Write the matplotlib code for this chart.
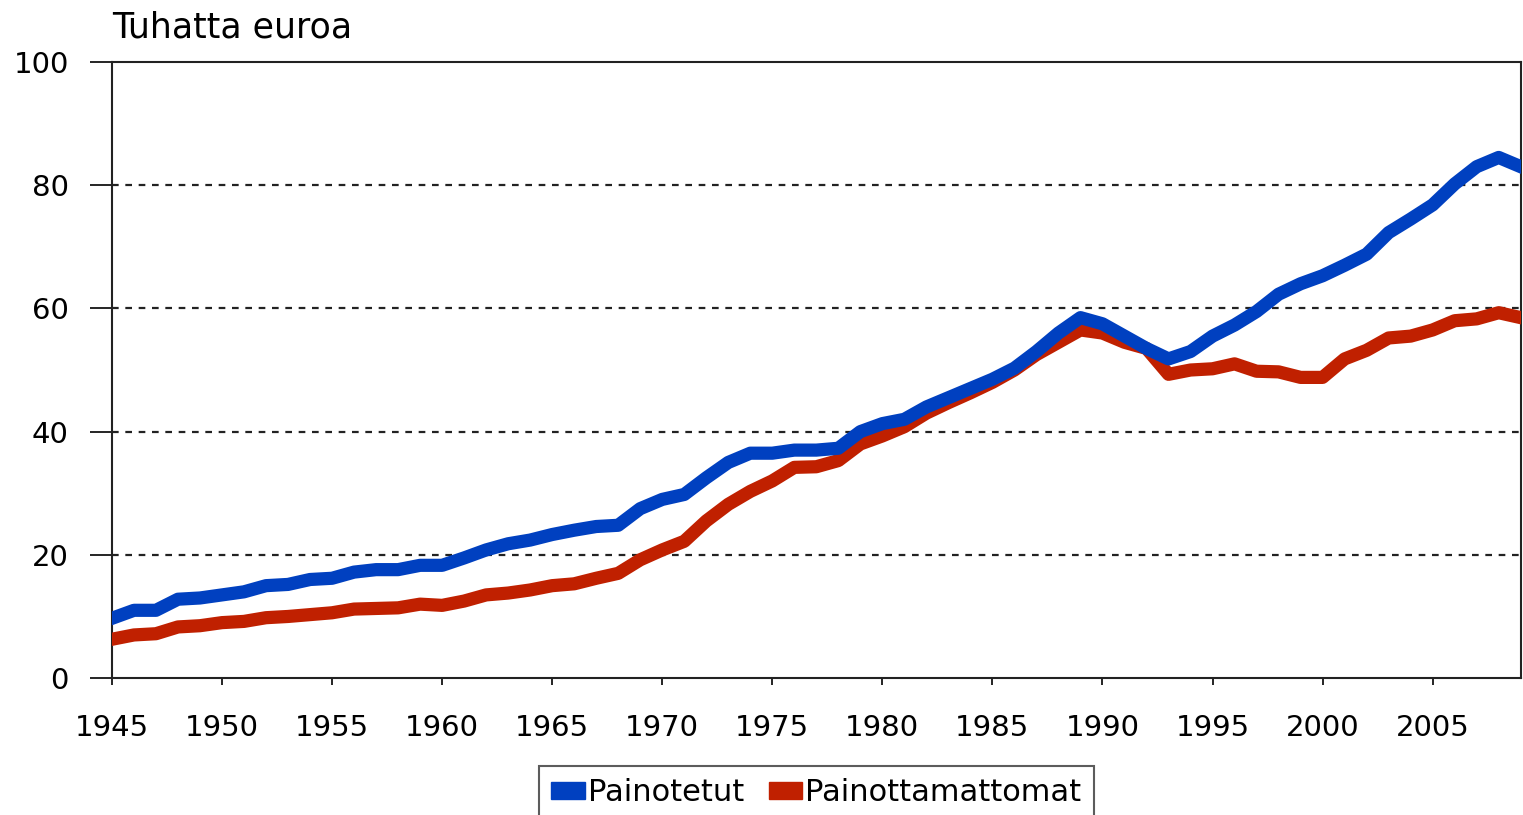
from matplotlib import pyplot as plt
from matplotlib.patches import Patch

years = list(range(1945, 2010))

painotetut = [9.7, 11.0, 11.0, 12.8, 13.0, 13.5, 14.0, 15.0, 15.2, 16.0,
              16.2, 17.2, 17.6, 17.6, 18.3, 18.3, 19.5, 20.8, 21.8, 22.4,
              23.3, 24.0, 24.6, 24.8, 27.5, 29.0, 29.8, 32.5, 35.0, 36.5,
              36.5, 37.0, 37.0, 37.3, 40.0, 41.3, 42.0, 44.0, 45.5, 47.0,
              48.5, 50.3, 53.0, 56.0, 58.5, 57.5, 55.5, 53.5, 51.8, 53.0,
              55.5, 57.3, 59.5, 62.3, 64.0, 65.3, 67.0, 68.8, 72.3, 74.5,
              76.8, 80.2, 83.0, 84.5, 83.0]

painottamattomat = [6.3, 7.0, 7.2, 8.3, 8.5, 9.0, 9.2, 9.8, 10.0, 10.3,
                    10.6, 11.2, 11.3, 11.4, 12.0, 11.8, 12.5, 13.5, 13.8, 14.3,
                    15.0, 15.3, 16.2, 17.0, 19.2, 20.8, 22.2, 25.5, 28.2, 30.3,
                    32.0, 34.2, 34.3, 35.3, 38.0, 39.3, 40.8, 43.0, 44.7, 46.3,
                    48.0, 50.0, 52.5, 54.5, 56.5, 56.0, 54.5, 53.5, 49.3, 50.0,
                    50.2, 51.0, 49.8, 49.7, 48.8, 48.8, 51.8, 53.2, 55.2, 55.5,
                    56.5, 58.0, 58.3, 59.3, 58.5]

blue = '#0040c0'
red = '#c02000'

plt.rcParams['font.family'] = ['DejaVu Sans']

fig = plt.figure(figsize=(15.23, 8.15), dpi=100)
ax = fig.add_axes([0.0735, 0.168, 0.925, 0.756])

ax.plot(years, painottamattomat, color=red, lw=9.5, solid_joinstyle='round', zorder=3)
ax.plot(years, painotetut, color=blue, lw=9.5, solid_joinstyle='round', zorder=4)

ax.set_xlim(1945, 2009)
ax.set_ylim(0, 100)
ax.set_xticks(range(1945, 2010, 5))
ax.set_yticks(range(0, 101, 20))
for y in [20, 40, 60, 80]:
	ax.axhline(y, color='#222222', lw=1.6, ls=(0, (3, 3)), zorder=1)

ax.tick_params(axis='both', labelsize=21, direction='out', width=1.2)
ax.tick_params(axis='x', length=5, pad=21)
ax.tick_params(axis='y', length=16, pad=15)
for s in ax.spines.values():
	s.set_linewidth(1.5)
	s.set_color('#222222')

fig.text(0.0735, 0.966, 'Tuhatta euroa', fontsize=25, ha='left', va='center')

handles = [Patch(color=blue, label='Painotetut'), Patch(color=red, label='Painottamattomat')]
leg = ax.legend(handles=handles, loc='upper center', bbox_to_anchor=(0.5, -0.143), ncol=2,
	fontsize=22, frameon=True, fancybox=False, edgecolor='#333333',
	handlelength=1.1, handleheight=0.45, handletextpad=0.1, columnspacing=0.8,
	borderpad=0.4, borderaxespad=0)
leg.get_frame().set_linewidth(1.5)

fig.savefig('out.png', dpi=100)
